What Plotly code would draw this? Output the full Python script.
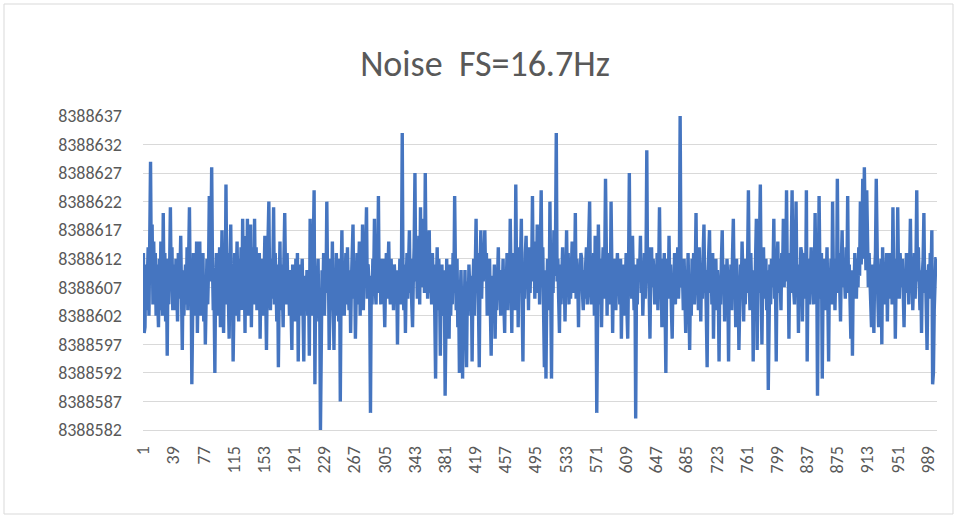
import plotly.graph_objects as go

# ADC noise readings (counts), one per sample
noise_counts = [
    8388613, 8388599, 8388600, 8388611, 8388603, 8388609, 8388614, 8388602, 8388616, 8388629,
    8388609, 8388618, 8388604, 8388615, 8388606, 8388613, 8388602, 8388611, 8388605, 8388600,
    8388612, 8388603, 8388615, 8388608, 8388602, 8388620, 8388606, 8388613, 8388601, 8388610,
    8388595, 8388612, 8388604, 8388610, 8388621, 8388607, 8388614, 8388603, 8388611, 8388606,
    8388603, 8388612, 8388608, 8388601, 8388613, 8388605, 8388609, 8388616, 8388606, 8388596,
    8388610, 8388602, 8388607, 8388611, 8388604, 8388614, 8388603, 8388609, 8388621, 8388606,
    8388612, 8388590, 8388605, 8388613, 8388602, 8388610, 8388604, 8388615, 8388599, 8388608,
    8388603, 8388615, 8388602, 8388611, 8388606, 8388613, 8388601, 8388609, 8388597, 8388607,
    8388612, 8388604, 8388610, 8388623, 8388608, 8388614, 8388628, 8388611, 8388603, 8388606,
    8388592, 8388609, 8388613, 8388602, 8388611, 8388605, 8388614, 8388600, 8388608, 8388617,
    8388606, 8388599, 8388612, 8388604, 8388625, 8388607, 8388613, 8388603, 8388598, 8388611,
    8388618, 8388605, 8388610, 8388594, 8388608, 8388613, 8388602, 8388611, 8388615, 8388604,
    8388601, 8388612, 8388606, 8388614, 8388603, 8388619, 8388607, 8388611, 8388599, 8388616,
    8388605, 8388619, 8388602, 8388613, 8388608, 8388618, 8388600, 8388610, 8388614, 8388604,
    8388619, 8388606, 8388614, 8388603, 8388611, 8388607, 8388613, 8388598, 8388609, 8388605,
    8388612, 8388602, 8388610, 8388616, 8388606, 8388596, 8388609, 8388614, 8388622, 8388607,
    8388603, 8388612, 8388605, 8388610, 8388621, 8388604, 8388613, 8388608, 8388601, 8388611,
    8388593, 8388606, 8388615, 8388603, 8388611, 8388607, 8388600, 8388612, 8388620, 8388609,
    8388604, 8388613, 8388606, 8388608, 8388602, 8388610, 8388605, 8388596, 8388611, 8388603,
    8388609, 8388601, 8388612, 8388604, 8388613, 8388594, 8388607, 8388611, 8388602, 8388608,
    8388612, 8388603, 8388594, 8388609, 8388605, 8388604, 8388610, 8388602, 8388608, 8388595,
    8388619, 8388606, 8388611, 8388602, 8388614, 8388624, 8388590, 8388609, 8388603, 8388608,
    8388612, 8388601, 8388606, 8388582, 8388604, 8388610, 8388605, 8388613, 8388602, 8388609,
    8388606, 8388622, 8388608, 8388611, 8388596, 8388607, 8388612, 8388603, 8388615, 8388605,
    8388596, 8388610, 8388602, 8388613, 8388606, 8388609, 8388601, 8388612, 8388587, 8388608,
    8388617, 8388605, 8388611, 8388602, 8388609, 8388613, 8388604, 8388614, 8388607, 8388603,
    8388610, 8388599, 8388608, 8388612, 8388618, 8388605, 8388611, 8388598, 8388607, 8388613,
    8388604, 8388609, 8388615, 8388602, 8388612, 8388606, 8388618, 8388603, 8388610, 8388607,
    8388613, 8388621, 8388605, 8388611, 8388608, 8388606, 8388585, 8388609, 8388604, 8388612,
    8388608, 8388619, 8388607, 8388604, 8388613, 8388609, 8388623, 8388606, 8388612, 8388604,
    8388610, 8388605, 8388612, 8388603, 8388600, 8388608, 8388613, 8388605, 8388610, 8388615,
    8388607, 8388604, 8388612, 8388606, 8388609, 8388603, 8388611, 8388608, 8388605, 8388610,
    8388597, 8388609, 8388606, 8388612, 8388604, 8388610, 8388634, 8388607, 8388603, 8388611,
    8388599, 8388608, 8388613, 8388605, 8388610, 8388617, 8388606, 8388612, 8388604, 8388600,
    8388609, 8388614, 8388627, 8388608, 8388612, 8388605, 8388610, 8388616, 8388604, 8388621,
    8388607, 8388614, 8388609, 8388619, 8388606, 8388627, 8388611, 8388615, 8388605, 8388612,
    8388617, 8388606, 8388610, 8388604, 8388613, 8388608, 8388611, 8388602, 8388591, 8388607,
    8388614, 8388603, 8388612, 8388607, 8388595, 8388609, 8388611, 8388602, 8388606, 8388610,
    8388588, 8388605, 8388612, 8388600, 8388608, 8388598, 8388611, 8388602, 8388609, 8388604,
    8388613, 8388606, 8388623, 8388610, 8388603, 8388612, 8388600, 8388607, 8388592, 8388605,
    8388610, 8388602, 8388591, 8388606, 8388601, 8388610, 8388604, 8388593, 8388608, 8388602,
    8388611, 8388605, 8388603, 8388609, 8388594, 8388607, 8388612, 8388602, 8388610, 8388619,
    8388606, 8388613, 8388604, 8388593, 8388610, 8388617, 8388605, 8388612, 8388608, 8388617,
    8388617, 8388609, 8388613, 8388602, 8388610, 8388606, 8388612, 8388603, 8388595, 8388607,
    8388609, 8388604, 8388611, 8388598, 8388608, 8388603, 8388612, 8388614, 8388605, 8388610,
    8388602, 8388609, 8388606, 8388612, 8388604, 8388599, 8388610, 8388607, 8388613, 8388603,
    8388611, 8388605, 8388619, 8388608, 8388599, 8388613, 8388606, 8388610, 8388603, 8388625,
    8388609, 8388614, 8388600, 8388611, 8388606, 8388612, 8388619, 8388604, 8388594, 8388610,
    8388605, 8388613, 8388616, 8388607, 8388611, 8388603, 8388614, 8388606, 8388612, 8388609,
    8388623, 8388608, 8388615, 8388605, 8388612, 8388606, 8388618, 8388609, 8388614, 8388604,
    8388611, 8388624, 8388607, 8388614, 8388603, 8388593, 8388610, 8388591, 8388606, 8388612,
    8388608, 8388603, 8388622, 8388610, 8388591, 8388613, 8388606, 8388617, 8388609, 8388614,
    8388634, 8388608, 8388612, 8388605, 8388599, 8388611, 8388604, 8388609, 8388614, 8388606,
    8388610, 8388601, 8388612, 8388617, 8388607, 8388613, 8388604, 8388611, 8388605, 8388614,
    8388615, 8388606, 8388611, 8388608, 8388620, 8388605, 8388612, 8388609, 8388600, 8388610,
    8388607, 8388613, 8388612, 8388606, 8388603, 8388610, 8388605, 8388611, 8388614, 8388604,
    8388609, 8388612, 8388622, 8388607, 8388604, 8388611, 8388606, 8388613, 8388602, 8388616,
    8388608, 8388585, 8388606, 8388618, 8388610, 8388604, 8388612, 8388600, 8388609, 8388614,
    8388605, 8388611, 8388626, 8388609, 8388602, 8388613, 8388607, 8388610, 8388604, 8388622,
    8388608, 8388599, 8388611, 8388605, 8388612, 8388603, 8388609, 8388613, 8388606, 8388610,
    8388604, 8388612, 8388598, 8388609, 8388605, 8388611, 8388602, 8388607, 8388613, 8388603,
    8388598, 8388610, 8388627, 8388608, 8388612, 8388605, 8388616, 8388609, 8388603, 8388611,
    8388584, 8388607, 8388604, 8388612, 8388608, 8388610, 8388616, 8388606, 8388611, 8388602,
    8388609, 8388613, 8388605, 8388611, 8388631, 8388608, 8388614, 8388604, 8388598, 8388610,
    8388614, 8388607, 8388612, 8388609, 8388604, 8388611, 8388606, 8388613, 8388603, 8388610,
    8388621, 8388608, 8388612, 8388600, 8388610, 8388606, 8388613, 8388604, 8388592, 8388609,
    8388612, 8388605, 8388616, 8388607, 8388611, 8388603, 8388598, 8388609, 8388606, 8388613,
    8388604, 8388611, 8388608, 8388614, 8388605, 8388610, 8388637, 8388612, 8388607, 8388609,
    8388603, 8388612, 8388606, 8388599, 8388610, 8388605, 8388613, 8388607, 8388596, 8388608,
    8388602, 8388612, 8388607, 8388613, 8388604, 8388609, 8388620, 8388606, 8388611, 8388603,
    8388614, 8388608, 8388601, 8388611, 8388605, 8388613, 8388618, 8388606, 8388610, 8388602,
    8388593, 8388609, 8388612, 8388617, 8388606, 8388611, 8388604, 8388613, 8388598, 8388608,
    8388605, 8388612, 8388603, 8388610, 8388607, 8388594, 8388609, 8388604, 8388612, 8388617,
    8388606, 8388611, 8388601, 8388609, 8388604, 8388612, 8388608, 8388594, 8388610, 8388605,
    8388611, 8388603, 8388613, 8388619, 8388607, 8388610, 8388600, 8388612, 8388605, 8388609,
    8388596, 8388608, 8388611, 8388606, 8388615, 8388609, 8388601, 8388612, 8388604, 8388610,
    8388606, 8388612, 8388624, 8388608, 8388603, 8388613, 8388607, 8388610, 8388594, 8388609,
    8388604, 8388612, 8388619, 8388596, 8388610, 8388606, 8388613, 8388625, 8388608, 8388597,
    8388609, 8388614, 8388605, 8388608, 8388612, 8388603, 8388610, 8388589, 8388606, 8388611,
    8388604, 8388612, 8388607, 8388610, 8388619, 8388605, 8388609, 8388594, 8388611, 8388615,
    8388606, 8388612, 8388608, 8388603, 8388613, 8388609, 8388619, 8388607, 8388614, 8388610,
    8388624, 8388608, 8388613, 8388598, 8388611, 8388606, 8388614, 8388624, 8388609, 8388605,
    8388604, 8388612, 8388622, 8388608, 8388611, 8388599, 8388609, 8388606, 8388614, 8388613,
    8388601, 8388610, 8388607, 8388613, 8388605, 8388624, 8388594, 8388609, 8388612, 8388604,
    8388611, 8388614, 8388606, 8388610, 8388604, 8388609, 8388620, 8388607, 8388612, 8388588,
    8388608, 8388623, 8388610, 8388605, 8388613, 8388591, 8388607, 8388612, 8388603, 8388611,
    8388608, 8388614, 8388605, 8388594, 8388610, 8388606, 8388612, 8388604, 8388622, 8388609,
    8388612, 8388603, 8388610, 8388606, 8388626, 8388608, 8388613, 8388605, 8388601, 8388611,
    8388617, 8388607, 8388612, 8388609, 8388605, 8388614, 8388608, 8388623, 8388606, 8388611,
    8388604, 8388598, 8388610, 8388595, 8388609, 8388606, 8388613, 8388608, 8388605, 8388612,
    8388607, 8388614, 8388609, 8388622, 8388611, 8388615, 8388626, 8388612, 8388628, 8388618,
    8388610, 8388624, 8388616, 8388607, 8388613, 8388609, 8388604, 8388600, 8388611, 8388606,
    8388599, 8388610, 8388613, 8388626, 8388609, 8388605, 8388600, 8388611, 8388607, 8388612,
    8388597, 8388614, 8388606, 8388611, 8388604, 8388609, 8388613, 8388601, 8388610, 8388605,
    8388613, 8388607, 8388611, 8388604, 8388621, 8388609, 8388612, 8388598, 8388608, 8388606,
    8388621, 8388610, 8388605, 8388613, 8388608, 8388607, 8388612, 8388603, 8388600, 8388609,
    8388606, 8388613, 8388608, 8388611, 8388604, 8388610, 8388619, 8388607, 8388612, 8388603,
    8388609, 8388613, 8388605, 8388611, 8388624, 8388608, 8388614, 8388607, 8388603, 8388610,
    8388599, 8388609, 8388612, 8388620, 8388606, 8388610, 8388604, 8388596, 8388608, 8388611,
    8388605, 8388613, 8388609, 8388617, 8388590, 8388592, 8388603, 8388608, 8388612, 8388612,
]

# sample numbers (category axis)
sample_numbers = list(range(1, len(noise_counts) + 1))

# axis tick labels
x_tick_labels = [1, 39, 77, 115, 153, 191, 229, 267, 305, 343, 381, 419, 457, 495,
                 533, 571, 609, 647, 685, 723, 761, 799, 837, 875, 913, 951, 989]
y_tick_labels = [8388582, 8388587, 8388592, 8388597, 8388602, 8388607,
                 8388612, 8388617, 8388622, 8388627, 8388632, 8388637]

chart_title = "Noise\u00a0\u00a0FS=16.7Hz"

FONT = "Carlito, Calibri, 'Liberation Sans', Arial, sans-serif"
TXT = "#595959"
GRID = "#d9d9d9"

W, H = 958, 519
L, R, T, B = 143, 21, 116, 89
pw, ph = W - L - R, H - T - B

fig = go.Figure()
fig.add_trace(go.Scatter(
    x=sample_numbers, y=noise_counts, mode="lines",
    line=dict(color="#4575C0", width=3.4),
    hoverinfo="x+y", showlegend=False,
))

fig.update_layout(
    width=W, height=H,
    margin=dict(l=L, r=R, t=T, b=B),
    paper_bgcolor="white", plot_bgcolor="white",
    font=dict(family=FONT, color=TXT, size=18),
    title=dict(text=chart_title, x=485 / W, xref="container", xanchor="center",
               y=1 - 63 / H, yref="container", yanchor="middle",
               font=dict(family=FONT, size=36, color=TXT)),
    xaxis=dict(
        range=[0.5, len(noise_counts) + 0.5],
        tickmode="array", tickvals=x_tick_labels,
        ticktext=[str(v) for v in x_tick_labels],
        tickangle=-90, showgrid=False, zeroline=False,
        showline=True, linecolor=GRID, linewidth=1,
        ticks="", ticklabelstandoff=8,
        tickfont=dict(family=FONT, size=18, color=TXT),
    ),
    yaxis=dict(
        range=[y_tick_labels[0], y_tick_labels[-1]],
        tickmode="array", tickvals=y_tick_labels,
        ticktext=[str(v) for v in y_tick_labels],
        showgrid=True, gridcolor=GRID, gridwidth=1,
        zeroline=False, showline=False, ticks="",
        ticklabelstandoff=20,
        tickfont=dict(family=FONT, size=18, color=TXT),
    ),
    shapes=[dict(
        type="rect", xref="paper", yref="paper",
        x0=(4 - L) / pw, x1=(953 - L) / pw,
        y0=(H - B - 514) / ph, y1=(H - B - 4) / ph,
        line=dict(color=GRID, width=1), fillcolor="rgba(0,0,0,0)", layer="below",
    )],
)

fig.write_html(
    "out.html",
    config={"displayModeBar": False},
    post_script="document.body.style.margin='0';document.body.style.overflow='hidden';",
)
